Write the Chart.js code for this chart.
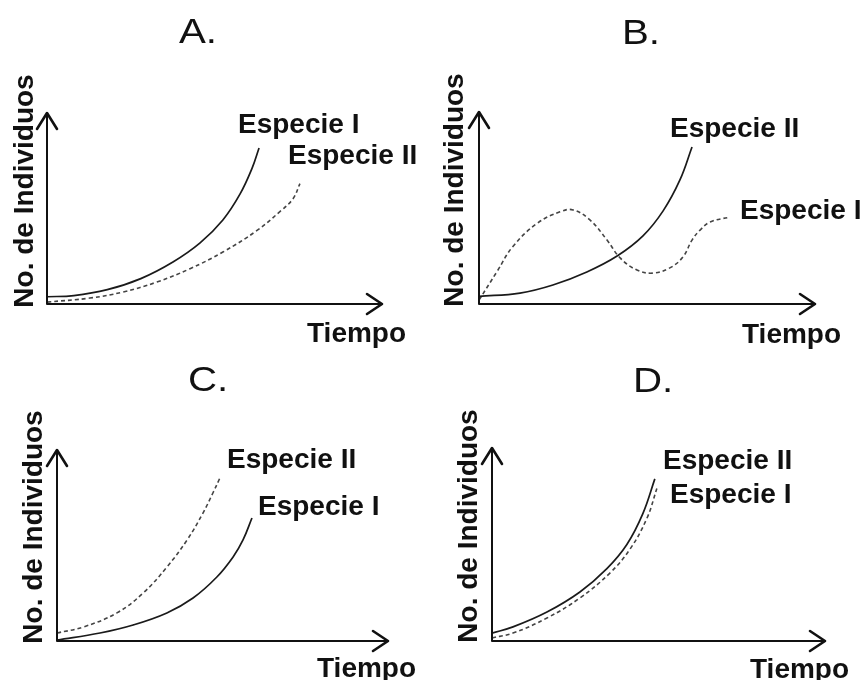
<!DOCTYPE html>
<html>
<head>
<meta charset="utf-8">
<script src="https://cdn.jsdelivr.net/npm/chart.js@4.4.1/dist/chart.umd.min.js"></script>
<style>
  html, body { margin: 0; padding: 0; background: #fff; }
  #wrap { position: relative; width: 865px; height: 680px; }
  #wrap canvas { position: absolute; left: 0; top: 0; }
</style>
</head>
<body>
<div id="wrap">
  <canvas id="panelA" width="865" height="680"></canvas>
  <canvas id="panelB" width="865" height="680"></canvas>
  <canvas id="panelC" width="865" height="680"></canvas>
  <canvas id="panelD" width="865" height="680"></canvas>
</div>
<script>
// Tiempo runs 0..10 along each x axis, No. de Individuos 0..10 up each y axis

// A. - both grow, Especie I faster
const tA_I  = [0, 0.8, 1.8, 2.8, 3.76, 4.57, 5.25, 5.76, 6.12, 6.33];
const nA_I  = [0.38, 0.44, 0.75, 1.33, 2.2, 3.2, 4.4, 5.75, 7.1, 8.17];
const tA_II = [0, 1.28, 2.27, 3.28, 4.27, 5.25, 6.27, 6.96, 7.34, 7.55];
const nA_II = [0.1, 0.31, 0.63, 1.15, 1.85, 2.72, 3.85, 4.85, 5.5, 6.3];

// B. - Especie II grows, Especie I oscillates
const tB_II = [0, 1.22, 2.2, 3.21, 4.11, 4.88, 5.48, 5.98, 6.34];
const nB_II = [0.4, 0.57, 0.99, 1.67, 2.5, 3.55, 4.85, 6.46, 8.18];
const tB_I  = [0, 0.54, 1.01, 1.73, 2.41, 2.8, 3.3, 3.81, 4.2, 4.7, 5.18, 5.68, 6.07, 6.34, 6.58, 6.88, 7.47];
const nB_I  = [0.2, 1.7, 3.0, 4.2, 4.8, 4.9, 4.38, 3.33, 2.4, 1.77, 1.61, 1.88, 2.45, 3.33, 3.85, 4.27, 4.53];

// C. - Especie II ahead of Especie I
const tC_II = [0, 0.79, 1.81, 2.6, 3.32, 3.93, 4.41, 4.71, 4.92];
const nC_II = [0.42, 0.73, 1.47, 2.51, 3.87, 5.29, 6.7, 7.75, 8.53];
const tC_I  = [0, 1.3, 2.3, 3.32, 4.11, 4.83, 5.32, 5.62, 5.89];
const nC_I  = [0.05, 0.42, 0.84, 1.47, 2.25, 3.35, 4.4, 5.29, 6.44];

// D. - almost identical growth
const tD_II = [0, 0.63, 1.65, 2.64, 3.45, 4.05, 4.53, 4.89];
const nD_II = [0.41, 0.73, 1.5, 2.54, 3.75, 5.0, 6.6, 8.4];
const tD_I  = [0, 0.63, 1.65, 2.64, 3.54, 4.14, 4.65, 4.95];
const nD_I  = [0.16, 0.41, 1.19, 2.23, 3.52, 4.75, 6.35, 7.9];

const yTitle = 'No. de Individuos';
const xTitle = 'Tiempo';

const toPoints = (t, n) => t.map((v, i) => ({ x: v, y: n[i] }));

// page layout of each small chart (origin and arrow tips in px)
const panels = [
  { id: 'panelA', letter: 'A.', letterAt: [198, 43], origin: [47, 304], tip: [382, 113],
    yLabelAt: [33, 191], tiempoAt: [307, 342],
    series: [
      { name: 'Especie I',  t: tA_I,  n: nA_I,  dashed: false, at: [238, 133] },
      { name: 'Especie II', t: tA_II, n: nA_II, dashed: true,  at: [288, 164] }
    ] },
  { id: 'panelB', letter: 'B.', letterAt: [641, 44], origin: [479, 304], tip: [815, 112],
    yLabelAt: [463, 190], tiempoAt: [742, 343],
    series: [
      { name: 'Especie II', t: tB_II, n: nB_II, dashed: false, at: [670, 137] },
      { name: 'Especie I',  t: tB_I,  n: nB_I,  dashed: true,  at: [740, 219] }
    ] },
  { id: 'panelC', letter: 'C.', letterAt: [208, 391], origin: [57, 641], tip: [388, 450],
    yLabelAt: [42, 527], tiempoAt: [317, 677],
    series: [
      { name: 'Especie II', t: tC_II, n: nC_II, dashed: true,  at: [227, 468] },
      { name: 'Especie I',  t: tC_I,  n: nC_I,  dashed: false, at: [258, 515] }
    ] },
  { id: 'panelD', letter: 'D.', letterAt: [653, 392], origin: [492, 641], tip: [825, 448],
    yLabelAt: [477, 526], tiempoAt: [750, 678],
    series: [
      { name: 'Especie II', t: tD_II, n: nD_II, dashed: false, at: [663, 469] },
      { name: 'Especie I',  t: tD_I,  n: nD_I,  dashed: true,  at: [670, 503] }
    ] }
];

const FONT = '"Liberation Sans", Arial, Helvetica, sans-serif';

// arrows, panel letter and all the lettering
const sketchPlugin = {
  id: 'sketch',
  afterDraw(chart, args, opts) {
    const { ctx, chartArea: a } = chart;
    const p = opts.panel;
    ctx.save();
    ctx.strokeStyle = '#111';
    ctx.lineCap = 'round';
    ctx.lineJoin = 'round';

    ctx.lineWidth = 2;
    ctx.beginPath();
    ctx.moveTo(a.left, a.top);
    ctx.lineTo(a.left, a.bottom);
    ctx.lineTo(a.right, a.bottom);
    ctx.stroke();

    ctx.lineWidth = 2.6;
    ctx.beginPath();
    ctx.moveTo(a.left - 10, a.top + 16);
    ctx.lineTo(a.left, a.top);
    ctx.lineTo(a.left + 10, a.top + 16);
    ctx.stroke();
    ctx.beginPath();
    ctx.moveTo(a.right - 15, a.bottom - 10);
    ctx.lineTo(a.right, a.bottom);
    ctx.lineTo(a.right - 15, a.bottom + 10);
    ctx.stroke();

    ctx.fillStyle = '#111';
    ctx.textBaseline = 'alphabetic';

    // panel letter, drawn a little wide
    ctx.save();
    ctx.font = '35px ' + FONT;
    ctx.textAlign = 'center';
    ctx.translate(p.letterAt[0], p.letterAt[1]);
    ctx.scale(1.15, 1);
    ctx.fillText(p.letter, 0, 0);
    ctx.restore();

    ctx.font = 'bold 28px ' + FONT;
    ctx.textAlign = 'left';
    ctx.fillText(xTitle, p.tiempoAt[0], p.tiempoAt[1]);
    p.series.forEach(s => ctx.fillText(s.name, s.at[0], s.at[1]));

    ctx.translate(p.yLabelAt[0], p.yLabelAt[1]);
    ctx.rotate(-Math.PI / 2);
    ctx.textAlign = 'center';
    ctx.fillText(yTitle, 0, 0);
    ctx.restore();
  }
};

panels.forEach(p => {
  new Chart(document.getElementById(p.id), {
    type: 'scatter',
    data: {
      datasets: p.series.map(s => ({
        label: s.name,
        data: toPoints(s.t, s.n),
        showLine: true,
        tension: 0.4,
        borderColor: s.dashed ? '#444' : '#1a1a1a',
        borderWidth: s.dashed ? 1.6 : 1.7,
        borderDash: s.dashed ? [4, 3] : [],
        pointRadius: 0,
        fill: false
      }))
    },
    options: {
      responsive: false,
      animation: false,
      devicePixelRatio: 1,
      layout: {
        padding: {
          left: p.origin[0],
          top: p.tip[1],
          right: 865 - p.tip[0],
          bottom: 680 - p.origin[1]
        }
      },
      scales: {
        x: { type: 'linear', min: 0, max: 10, display: false },
        y: { type: 'linear', min: 0, max: 10, display: false }
      },
      plugins: {
        legend: { display: false },
        tooltip: { enabled: false },
        sketch: { panel: p }
      },
      events: []
    },
    plugins: [sketchPlugin]
  });
});
</script>
</body>
</html>
